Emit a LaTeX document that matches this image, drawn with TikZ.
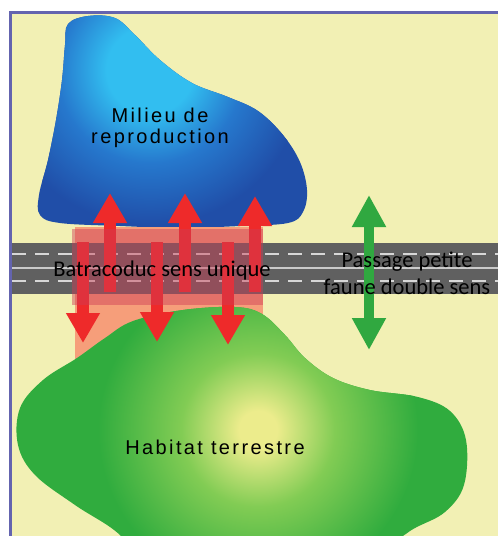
\documentclass[tikz,border=0pt]{standalone}
\usepackage{fontspec}
\usetikzlibrary{arrows.meta}
\newfontfamily\blobfont[LetterSpace=12]{Liberation Sans}
\newfontfamily\roadfont{Carlito}
\definecolor{paper}{RGB}{242,240,180}
\definecolor{framecol}{RGB}{100,100,175}
\definecolor{pondcyan}{RGB}{50,190,240}
\definecolor{pondmid}{RGB}{38,120,205}
\definecolor{pondblue}{RGB}{32,78,168}
\definecolor{meadowlight}{RGB}{236,236,140}
\definecolor{meadowmid}{RGB}{130,204,84}
\definecolor{meadowgreen}{RGB}{48,172,62}
\definecolor{ductsalmon}{RGB}{246,158,122}
\definecolor{ductred}{RGB}{205,60,85}
\definecolor{roadgray}{RGB}{96,96,96}
\definecolor{roadline}{RGB}{215,215,215}
\definecolor{arrowred}{RGB}{238,42,42}
\definecolor{arrowgreen}{RGB}{48,168,64}
% 25bp is the rim of the shaded circle
\pgfdeclareradialshading{pondglow}{\pgfpointorigin}{color(0bp)=(pondcyan); color(7bp)=(pondcyan);
  color(15bp)=(pondmid); color(25bp)=(pondblue); color(50bp)=(pondblue)}
\pgfdeclareradialshading{meadowglow}{\pgfpointorigin}{color(0bp)=(meadowlight); color(3bp)=(meadowlight);
  color(12bp)=(meadowmid); color(25bp)=(meadowgreen); color(50bp)=(meadowgreen)}
\begin{document}
\begin{tikzpicture}[x=1pt, y=-1pt,
  redarrow/.style={line width=12pt, draw=arrowred, -{Triangle[width=32pt,length=30pt]}},
  greenarrow/.style={line width=10pt, draw=arrowgreen,
    {Triangle[width=32pt,length=32pt]}-{Triangle[width=32pt,length=32pt]}},
  blobtext/.style={font=\blobfont\fontsize{20}{21}\selectfont, align=center},
  roadtext/.style={font=\roadfont\fontsize{22.5}{27}\selectfont, align=center}]
  % page and frame
  \useasboundingbox (0,0) rectangle (498,536);
  \fill[white] (0,0) rectangle (498,536);
  \fill[paper] (12,14) rectangle (498,536);
  \draw[framecol, line width=3pt] (10.5,536) -- (10.5,12.5) -- (498,12.5);
  % breeding site (blue blob)
  \begin{scope}
    \clip plot[smooth cycle, tension=0.6] coordinates {(68,24) (88,16) (115,18) (135,35)
      (160,60) (192,83) (228,97) (258,111) (283,135) (300,162) (307,190) (303,212)
      (288,223) (240,226) (180,228) (120,226) (60,223) (40,215) (39,195) (48,160)
      (56,120) (62,80) (65,45)};
    \fill[pondblue] (0,0) rectangle (320,240);
    \shade[shading=pondglow] (150,70) circle (155);
  \end{scope}
  % one-way duct, salmon band
  \fill[ductsalmon] (75,227) rectangle (263,400);
  % terrestrial habitat (green blob)
  \begin{scope}
    \clip plot[smooth cycle, tension=0.6] coordinates {(20,408) (43,380) (77,358)
      (105,338) (133,321) (183,310) (235,307) (262,314) (285,335) (305,358) (333,378)
      (370,390) (418,397) (450,411) (466,440) (464,485) (445,512) (415,528) (385,545)
      (300,575) (150,575) (120,535) (75,505) (35,475) (18,445)};
    \fill[meadowgreen] (0,290) rectangle (498,600);
    \shade[shading=meadowglow] (258,430) circle (160);
  \end{scope}
  % road
  \fill[roadgray] (12,243) rectangle (498,294);
  \draw[roadline, line width=1.5pt, dash pattern=on 14pt off 9pt] (12,254) -- (498,254);
  \draw[roadline, line width=1.5pt, dash pattern=on 14pt off 9pt] (12,281) -- (498,281);
  \draw[roadline!85!gray, line width=1.5pt] (12,268) -- (498,268);
  % red one-way arrows
  \foreach \x/\y in {110/193, 185/193, 255/196} \draw[redarrow] (\x,292) -- (\x,\y);
  \foreach \x/\y in {83/343, 157/342, 228/345} \draw[redarrow] (\x,242) -- (\x,\y);
  % translucent duct over the road
  \fill[ductred, opacity=0.45] (72,229) rectangle (263,305);
  % green two-way arrow
  \draw[greenarrow] (369,195) -- (369,350);
  % labels
  \node[blobtext] (pond) at (160,128) {Milieu de\\reproduction};
  \node[blobtext] (habitat) at (215,447) {Habitat terrestre};
  \node[roadtext, anchor=base] (batracoduc) at (162,276) {Batracoduc sens unique};
  \node[roadtext] (passage) at (407,273) {Passage petite\\faune double sens};
\end{tikzpicture}
\end{document}
